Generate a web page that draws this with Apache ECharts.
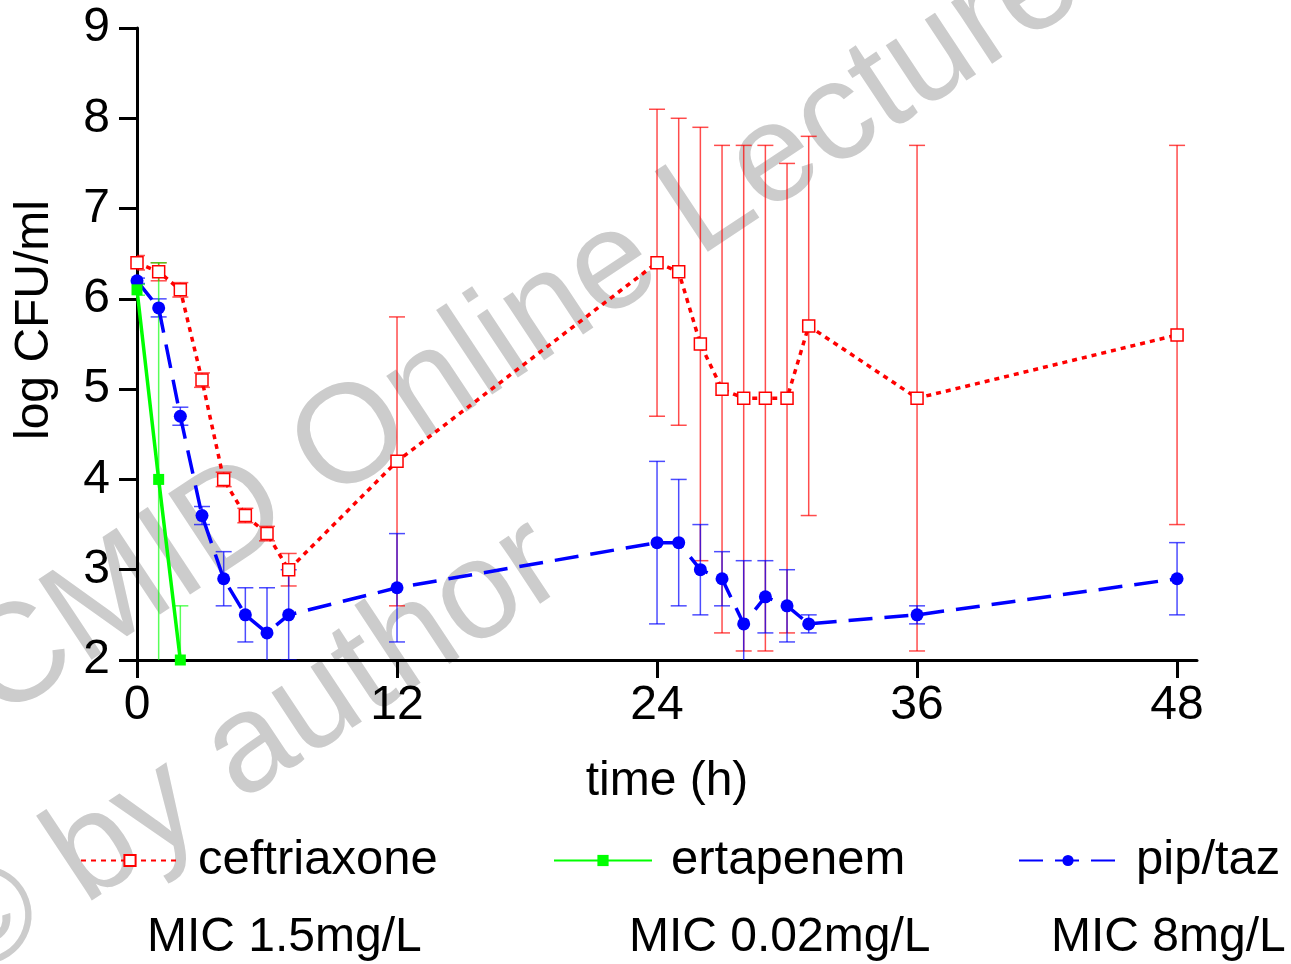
<!DOCTYPE html>
<html>
<head>
<meta charset="utf-8">
<title>log CFU/ml over time</title>
<script src="https://cdn.jsdelivr.net/npm/echarts@6/dist/echarts.min.js"></script>
<style>
  body { margin: 0; background: #fff; }
  #chart { width: 1291px; height: 964px; }
</style>
</head>
<body>
<div id="chart"></div>
<script>
// sampling times (h)
const ceftriaxoneHours = [0, 1, 2, 3, 4, 5, 6, 7, 12, 24, 25, 26, 27, 28, 29, 30, 31, 36, 48];
const ertapenemHours = [0, 1, 2];
const piptazHours = [0, 1, 2, 3, 4, 5, 6, 7, 12, 24, 25, 26, 27, 28, 29, 30, 31, 36, 48];

// log CFU/ml, mean and error
const ceftriaxoneMean = [6.4, 6.3, 6.1, 5.1, 4.0, 3.6, 3.4, 3.0, 4.2, 6.4, 6.3, 5.5, 5.0, 4.9, 4.9, 4.9, 5.7, 4.9, 5.6];
const ceftriaxoneErr = [0.08, 0.1, 0.08, 0.08, 0.08, 0.08, 0.08, 0.18, 1.6, 1.7, 1.7, 2.4, 2.7, 2.8, 2.8, 2.6, 2.1, 2.8, 2.1];
const ertapenemMean = [6.1, 4.0, 2.0];
const ertapenemErr = [0.06, 2.4, 0.6];
const piptazMean = [6.2, 5.9, 4.7, 3.6, 2.9, 2.5, 2.3, 2.5, 2.8, 3.3, 3.3, 3.0, 2.9, 2.4, 2.7, 2.6, 2.4, 2.5, 2.9];
const piptazErr = [0.03, 0.1, 0.1, 0.1, 0.3, 0.3, 0.5, 0.5, 0.6, 0.9, 0.7, 0.5, 0.3, 0.7, 0.4, 0.4, 0.1, 0.1, 0.4];

const xTicks = [0, 12, 24, 36, 48];
const micLabels = ['MIC 1.5mg/L', 'MIC 0.02mg/L', 'MIC 8mg/L'];

const FONT = '"Liberation Sans", Arial, sans-serif';
const WM_ANGLE = 33.5 * Math.PI / 180;

function pairs(hours, vals) {
    return hours.map((h, i) => [h, vals[i]]);
}

function errorRows(hours, mean, err) {
    return hours.map((h, i) => [h, mean[i] - err[i], mean[i] + err[i]]);
}

// error bars with caps
function errorSeries(name, rows, color) {
    return {
        type: 'custom',
        name: name,
        data: rows,
        encode: { x: 0, y: [1, 2] },
        clip: true,
        silent: true,
        z: 3,
        renderItem: function (params, api) {
            const x = api.value(0);
            const lo = api.coord([x, api.value(1)]);
            const hi = api.coord([x, api.value(2)]);
            const w = 8;
            const style = { stroke: color, lineWidth: 1.5 };
            return {
                type: 'group',
                children: [
                    { type: 'line', shape: { x1: hi[0], y1: hi[1], x2: lo[0], y2: lo[1] }, style: style },
                    { type: 'line', shape: { x1: hi[0] - w, y1: hi[1], x2: hi[0] + w, y2: hi[1] }, style: style },
                    { type: 'line', shape: { x1: lo[0] - w, y1: lo[1], x2: lo[0] + w, y2: lo[1] }, style: style }
                ]
            };
        }
    };
}

const legendBase = {
    orient: 'horizontal',
    padding: 0,
    itemWidth: 98,
    itemHeight: 14,
    selectedMode: false,
    textStyle: { fontSize: 49, color: '#000', fontFamily: FONT, padding: [0, 0, 0, 14] }
};

let chart = echarts.init(document.getElementById('chart'));
let option = {
    backgroundColor: '#fff',
    animation: false,
    textStyle: { fontFamily: FONT },
    grid: { left: 137, top: 28, width: 1060, height: 632 },
    xAxis: {
        type: 'value',
        min: 0,
        max: 48.92,
        name: 'time (h)',
        nameLocation: 'middle',
        nameGap: 98,
        nameTextStyle: { fontSize: 48, color: '#000' },
        axisLine: { lineStyle: { color: '#000', width: 3 } },
        axisTick: { customValues: xTicks, length: 18, lineStyle: { color: '#000', width: 3 } },
        axisLabel: { customValues: xTicks, fontSize: 48, color: '#000', margin: 22 },
        splitLine: { show: false }
    },
    yAxis: {
        type: 'value',
        min: 2,
        max: 9,
        interval: 1,
        name: 'log CFU/ml',
        nameLocation: 'middle',
        nameGap: 78,
        nameTextStyle: { fontSize: 48, color: '#000', padding: [0, 0, 0, 48] },
        axisLine: { show: true, lineStyle: { color: '#000', width: 3 } },
        axisTick: { show: true, length: 18, lineStyle: { color: '#000', width: 3 } },
        axisLabel: { fontSize: 48, color: '#000', margin: 27 },
        splitLine: { show: false }
    },
    legend: [
        Object.assign({ data: ['ceftriaxone'], left: 80, top: 836 }, legendBase),
        Object.assign({ data: ['ertapenem'], left: 553, top: 836 }, legendBase),
        Object.assign({ data: ['pip/taz'], left: 1018, top: 836 }, legendBase)
    ],
    graphic: [
        {
            type: 'text', x: 15, y: 748, rotation: WM_ANGLE, z: -10, silent: true,
            style: { text: 'CMID Online Lecture', font: '140px ' + FONT, fill: '#cccccc', align: 'left', verticalAlign: 'bottom' }
        },
        {
            type: 'text', x: -17, y: 1010, rotation: WM_ANGLE, z: -10, silent: true,
            style: { text: '\u00a9 by author', font: '140px ' + FONT, fill: '#cccccc', align: 'left', verticalAlign: 'bottom' }
        },
        { type: 'text', left: 147, top: 914, style: { text: micLabels[0], font: '48px ' + FONT, fill: '#000' } },
        { type: 'text', left: 629, top: 914, style: { text: micLabels[1], font: '48px ' + FONT, fill: '#000' } },
        { type: 'text', left: 1051, top: 914, style: { text: micLabels[2], font: '48px ' + FONT, fill: '#000' } }
    ],
    series: [
        errorSeries('ceftriaxone err', errorRows(ceftriaxoneHours, ceftriaxoneMean, ceftriaxoneErr), 'rgba(255,0,0,0.7)'),
        errorSeries('pip/taz err', errorRows(piptazHours, piptazMean, piptazErr), 'rgba(0,0,255,0.7)'),
        errorSeries('ertapenem err', errorRows(ertapenemHours, ertapenemMean, ertapenemErr), 'rgba(0,255,0,0.65)'),
        {
            type: 'line',
            name: 'ceftriaxone',
            data: pairs(ceftriaxoneHours, ceftriaxoneMean),
            z: 4,
            symbol: 'rect',
            symbolSize: 12,
            lineStyle: { color: '#ff0000', width: 3.5, type: [5, 5] },
            itemStyle: { color: '#ffffff', borderColor: '#ff0000', borderWidth: 1.5 }
        },
        {
            type: 'line',
            name: 'ertapenem',
            data: pairs(ertapenemHours, ertapenemMean),
            z: 5,
            symbol: 'rect',
            symbolSize: 11,
            lineStyle: { color: '#00ff00', width: 3.5 },
            itemStyle: { color: '#00ff00' }
        },
        {
            type: 'line',
            name: 'pip/taz',
            data: pairs(piptazHours, piptazMean),
            z: 4,
            symbol: 'circle',
            symbolSize: 13,
            lineStyle: { color: '#0000ff', width: 3.5, type: [24, 12] },
            itemStyle: { color: '#0000ff' }
        }
    ]
};

chart.setOption(option);

window.addEventListener('resize', () => chart.resize());
</script>
</body>
</html>
